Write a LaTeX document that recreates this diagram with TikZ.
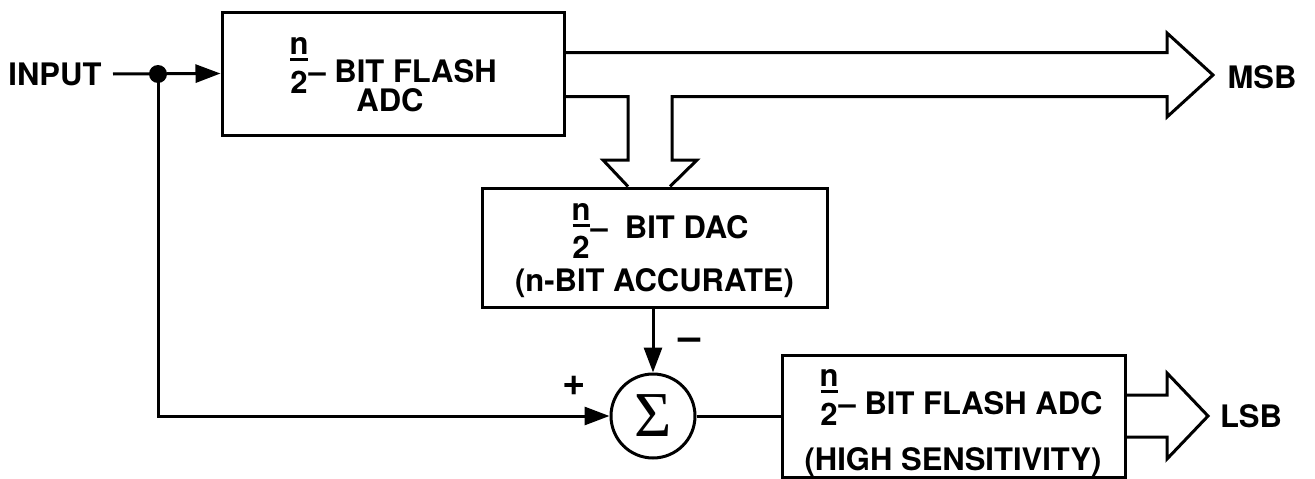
\documentclass[tikz,border=0pt]{standalone}
\usepackage{fontspec}
\setmainfont{TeX Gyre Heros}
\newfontfamily\sigmafont{Liberation Serif}
\usetikzlibrary{arrows.meta,calc}
\newcommand{\nfrac}[1]{\makebox[0.62em][c]{%
  \makebox[0pt][c]{\raisebox{\dimexpr#1+0.2em\relax}{n}}%
  \makebox[0pt][c]{\raisebox{#1}{\rule{0.55em}{0.09em}}}%
  \makebox[0pt][c]{\raisebox{\dimexpr#1-1.04em\relax}{2}}}}
\begin{document}
\begin{tikzpicture}[x=1pt,y=-1pt,line width=3pt,
  font=\fontsize{31}{37}\selectfont\bfseries,
  blk/.style={draw,rectangle,inner sep=0pt,line width=3pt},
  lbl/.style={anchor=base,inner sep=0pt},
  arr/.style={-{Triangle[length=25pt,width=18pt]}},
  bus/.style={line join=miter}]
\useasboundingbox (0,0) rectangle (1315,479);
% blocks
\node[blk,minimum width=342pt,minimum height=123pt] (adc1) at (393,73.5) {};
\node[blk,minimum width=345pt,minimum height=119pt] (dac) at (654.5,247.5) {};
\node[blk,minimum width=343pt,minimum height=122pt] (lsb) at (953.5,416) {};
\node[draw,circle,inner sep=0pt,minimum size=84pt,font=\fontsize{64}{64}\selectfont\sigmafont] (sum) at (653,416) {Σ};
% texts in blocks
\node[lbl] (t1a) at (393,82) {\nfrac{0.68em}– BIT FLASH};
\node[lbl] (t1b) at (390,111) {ADC};
\node[lbl] (t2a) at (660,238) {\nfrac{0.37em}–\hspace{0.55em}BIT DAC};
\node[lbl] (t2b) at (654.5,291) {(n-BIT ACCURATE)};
\node[lbl] (t3a) at (961,414) {\nfrac{0.68em}– BIT FLASH ADC};
\node[lbl] (t3b) at (953,470) {(HIGH SENSITIVITY)};
% outer labels
\node[inner xsep=10pt,inner ysep=0pt] (input) at (55,74) {INPUT};
\node[inner sep=0pt] (msb) at (1262,77) {MSB};
\node[inner sep=0pt] (lsbl) at (1251,416) {LSB};
\node[inner sep=0pt,font=\fontsize{40}{40}\selectfont\bfseries] (plus) at (574,386) {+};
\node[inner sep=0pt,font=\fontsize{40}{40}\selectfont\bfseries] (minus) at (690,344) {–};
% input
\draw[arr] (input.east) -- (adc1.west);
\node[circle,fill,inner sep=0pt,minimum size=18pt] (dot) at (158,74) {};
\draw[arr] (dot.center) |- (sum.west);
\draw[arr] (dac.south -| sum.north) -- (sum.north);
\draw (sum.east) -- (lsb.west);
% MSB bus with branch into DAC
\draw[bus] ([yshift=21pt]adc1.east) -- (1167,52.5) -- (1167,33) -- (1213,75)
  -- (1167,117) -- (1167,96.5) -- (672,96.5) -- (672,160) -- (697,160)
  -- (670,0 |- dac.north);
\draw[bus] ([yshift=-23pt]adc1.east) -- (628,96.5) -- (628,160) -- (603,160)
  -- (628,0 |- dac.north);
% LSB bus
\draw[bus] ([yshift=21pt]lsb.east) -- (1167,395) -- (1167,373) -- (1208,416)
  -- (1167,459) -- (1167,437) -- ([yshift=-21pt]lsb.east);
\end{tikzpicture}
\end{document}
